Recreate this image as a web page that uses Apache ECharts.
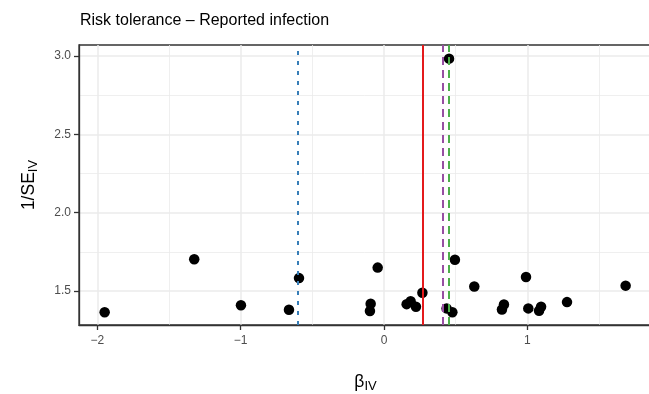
<!DOCTYPE html>
<html>
<head>
<meta charset="utf-8">
<script src="https://cdn.jsdelivr.net/npm/echarts@6/dist/echarts.min.js"></script>
<style>
  html, body { margin: 0; padding: 0; background: #fff; }
  #chart { width: 649px; height: 394px; }
</style>
</head>
<body>
<div id="chart"></div>
<script>
// IV estimates and their precision (1/SE)
var betaIV = [-1.949, -1.324, -0.998, -0.663, -0.593, -0.098, -0.093, -0.044, 0.158, 0.186,
              0.223, 0.268, 0.437, 0.454, 0.477, 0.495, 0.63, 0.823, 0.837, 0.991,
              1.007, 1.082, 1.096, 1.277, 1.686];
var invSE = [1.365, 1.703, 1.41, 1.381, 1.583, 1.373, 1.42, 1.65, 1.417, 1.436,
             1.40, 1.49, 1.39, 2.983, 1.365, 1.70, 1.53, 1.383, 1.415, 1.59,
             1.39, 1.375, 1.40, 1.43, 1.535];
// pooled estimates drawn as vertical lines
var pooled = [0.268, 0.41, 0.452, -0.605];
var xMajor = [-2, -1, 0, 1];
var xMinor = [-1.5, -0.5, 0.5, 1.5];
var yMajor = [1.5, 2.0, 2.5, 3.0];
var yMinor = [1.75, 2.25, 2.75];

var FONT = '"Liberation Sans", Arial, sans-serif';
var myChart = echarts.init(document.getElementById('chart'));

function minus(v) {
  return String(v).replace('-', '\u2212');
}

var points = [];
for (var i = 0; i < betaIV.length; i++) {
  points.push([betaIV[i], invSE[i]]);
}

var lineStyles = [
  { color: '#E41A1C', type: 'solid' },
  { color: '#984EA3', type: [8, 5] },
  { color: '#4DAF4A', type: [8, 5] },
  { color: '#377EB8', type: [4, 6] }
];
var markData = [];
for (var j = 0; j < pooled.length; j++) {
  markData.push({
    xAxis: pooled[j],
    lineStyle: { color: lineStyles[j].color, type: lineStyles[j].type, width: 2 }
  });
}

var xmin = -2.128, xmax = 1.87, ymin = 1.284, ymax = 3.07;

var option = {
  animation: false,
  title: {
    text: 'Risk tolerance \u2013 Reported infection',
    left: 75,
    top: 8,
    textStyle: { fontFamily: FONT, fontSize: 16, fontWeight: 'normal', color: '#000' }
  },
  grid: {
    left: 79, top: 45, width: 573, height: 280,
    outerBoundsMode: 'none',
    containLabel: false,
    show: true, borderColor: '#333', borderWidth: 1.3
  },
  xAxis: [{
    type: 'value', min: xmin, max: xmax,
    name: '{b|\u03B2}{s|IV}',
    nameLocation: 'middle', nameGap: 46,
    nameTextStyle: {
      fontFamily: FONT, color: '#000',
      rich: {
        b: { fontFamily: FONT, fontSize: 17.5, color: '#000' },
        s: { fontFamily: FONT, fontSize: 13, color: '#000', padding: [9, 0, 0, 0] }
      }
    },
    axisLine: { show: true, onZero: false, lineStyle: { color: '#333', width: 1.3 } },
    axisTick: { show: true, length: 5, customValues: xMajor, lineStyle: { color: '#333', width: 1.3 } },
    axisLabel: {
      customValues: xMajor, margin: 10,
      fontFamily: FONT, fontSize: 12, color: '#4D4D4D',
      formatter: function (v) { return minus(v); }
    },
    splitLine: { show: true, lineStyle: { color: '#EBEBEB', width: 1.5 } }
  }, {
    type: 'value', min: xmin, max: xmax,
    axisLine: { show: false, onZero: false },
    axisTick: { show: false, customValues: xMinor },
    axisLabel: { show: false, customValues: xMinor },
    splitLine: { show: true, lineStyle: { color: '#EBEBEB', width: 0.8 } }
  }],
  yAxis: [{
    type: 'value', min: ymin, max: ymax,
    name: '{b|1/SE}{s|IV}',
    nameLocation: 'middle', nameGap: 39, nameRotate: 90,
    nameTextStyle: {
      fontFamily: FONT, color: '#000',
      rich: {
        b: { fontFamily: FONT, fontSize: 17.5, color: '#000' },
        s: { fontFamily: FONT, fontSize: 13, color: '#000', padding: [9, 0, 0, 0] }
      }
    },
    axisLine: { show: true, onZero: false, lineStyle: { color: '#333', width: 1.3 } },
    axisTick: { show: true, length: 5, customValues: yMajor, lineStyle: { color: '#333', width: 1.3 } },
    axisLabel: {
      customValues: yMajor, margin: 8,
      fontFamily: FONT, fontSize: 12, color: '#4D4D4D',
      formatter: function (v) { return v.toFixed(1); }
    },
    splitLine: { show: true, lineStyle: { color: '#EBEBEB', width: 1.5 } }
  }, {
    type: 'value', min: ymin, max: ymax,
    axisLine: { show: false, onZero: false },
    axisTick: { show: false, customValues: yMinor },
    axisLabel: { show: false, customValues: yMinor },
    splitLine: { show: true, lineStyle: { color: '#EBEBEB', width: 0.8 } }
  }],
  series: [{
    type: 'scatter',
    xAxisIndex: 0, yAxisIndex: 0,
    data: points,
    symbolSize: 10.5,
    itemStyle: { color: '#000', opacity: 1 },
    z: 2
  }, {
    type: 'line',
    xAxisIndex: 0, yAxisIndex: 0,
    data: [],
    z: 3,
    markLine: {
      silent: true,
      symbol: ['none', 'none'],
      label: { show: false },
      data: markData
    }
  }]
};

myChart.setOption(option);
</script>
</body>
</html>
